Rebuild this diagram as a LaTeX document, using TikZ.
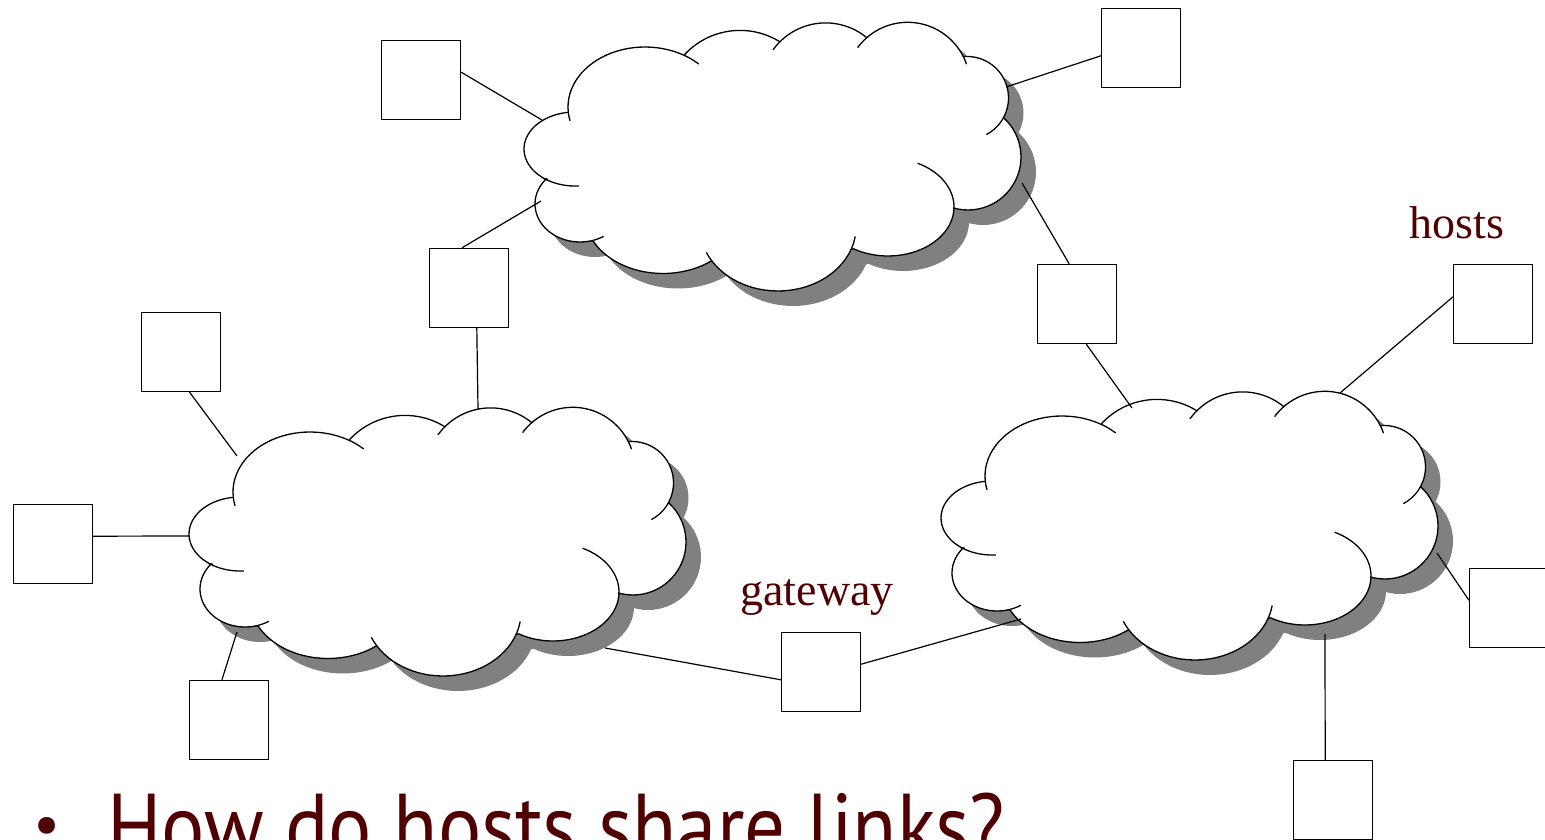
\documentclass[tikz,border=0pt]{standalone}
\usepackage{fontspec}
\setmainfont{Liberation Serif}
\newfontfamily\qfont[FakeStretch=0.88]{PT Sans}
\newfontfamily\qbfont{PT Sans}
\definecolor{lblred}{RGB}{80,0,0}
\definecolor{shadowgray}{RGB}{128,128,128}
\tikzset{
  host/.style={draw, line width=1.3pt, minimum size=79pt, inner sep=0pt, fill=white},
  link/.style={line width=1.2pt},
  lbl/.style={text=lblred, font=\fontsize{46}{50}\selectfont, inner sep=0pt},
  qtext/.style={text=lblred, font=\qfont\fontsize{92}{96}\selectfont, inner sep=0pt},
  qbullet/.style={text=lblred, font=\qbfont\fontsize{60}{64}\selectfont, inner sep=0pt},
  cloudline/.style={line width=1.3pt, line join=round, line cap=round},
  lobe/.style={samples=30, variable=\t},
  cloudoutline/.style={insert path={
    plot[lobe, domain=122:262.5] ({240+51*cos(\t)},{534+37*sin(\t)})
    -- plot[lobe, domain=175:301] ({310+77*cos(\t)},{492+60*sin(\t)})
    -- plot[lobe, domain=222.8:302] ({405+75.6*cos(\t)},{491+75.6*sin(\t)})
    -- plot[lobe, domain=225.3:309.4] ({490.6+64.8*cos(\t)},{472.7+64.8*sin(\t)})
    -- plot[lobe, domain=228.8:333.4] ({572.7+62.2*cos(\t)},{469.5+62.2*sin(\t)})
    -- plot[lobe, domain=264.7:388.7] ({632.1+41.4*cos(\t)},{482.9+41.4*sin(\t)})
    -- plot[lobe, domain=-46.8:105.9] ({633+53*cos(\t)},{542+53*sin(\t)})
    -- plot[lobe, domain=1.5:121.6] ({553+66*cos(\t)},{592+49*sin(\t)})
    -- plot[lobe, domain=20.6:147.5] ({443+78*cos(\t)},{612+64*sin(\t)})
    -- plot[lobe, domain=52:153.5] ({328+78*cos(\t)},{600+58.5*sin(\t)})
    -- plot[lobe, domain=75:221.9] ({245+45*cos(\t)},{589+38*sin(\t)})
    -- cycle}},
  cloudticks/.style={insert path={
    plot[lobe, domain=86:122] ({240+51*cos(\t)},{534+37*sin(\t)})
    plot[lobe, domain=167:175] ({310+77*cos(\t)},{492+60*sin(\t)})
    plot[lobe, domain=301:314] ({310+77*cos(\t)},{492+60*sin(\t)})
    plot[lobe, domain=216:225.3] ({490.6+64.8*cos(\t)},{472.7+64.8*sin(\t)})
    plot[lobe, domain=216.6:228.8] ({572.7+62.2*cos(\t)},{469.5+62.2*sin(\t)})
    plot[lobe, domain=333.4:340.6] ({572.7+62.2*cos(\t)},{469.5+62.2*sin(\t)})
    plot[lobe, domain=388.7:421.7] ({632.1+41.4*cos(\t)},{482.9+41.4*sin(\t)})
    plot[lobe, domain=-63.1:1.5] ({553+66*cos(\t)},{592+49*sin(\t)})
    plot[lobe, domain=8.8:20.6] ({443+78*cos(\t)},{612+64*sin(\t)})
    plot[lobe, domain=147.5:156.3] ({443+78*cos(\t)},{612+64*sin(\t)})
    plot[lobe, domain=58.7:75] ({245+45*cos(\t)},{589+38*sin(\t)})
  }}
}
\newcommand\netcloud[2]{%
  \begin{scope}[shift={(#1,#2)}]
    \fill[shadowgray, shift={(15,15)}, cloudoutline];
    \filldraw[fill=white, draw=black, cloudline, cloudoutline];
    \draw[cloudline, cloudticks];
  \end{scope}}
\begin{document}
\begin{tikzpicture}[x=1pt,y=-1pt]
\useasboundingbox (0,0) rectangle (1545,840);
\clip (0,0) rectangle (1545,840);
% clouds
\netcloud{335}{-385}
\netcloud{0}{0}
\netcloud{752}{-16}
% hosts / routers
\node[host] (h1) at (421,80) {};
\node[host] (h2) at (1141,48) {};
\node[host] (h3) at (469,288) {};
\node[host] (h4) at (1077,304) {};
\node[host] (h5) at (181,352) {};
\node[host] (h6) at (53,544) {};
\node[host] (h7) at (229,720) {};
\node[host] (h8) at (821,672) {};
\node[host] (h9) at (1493,304) {};
\node[host] (h10) at (1509,608) {};
\node[host] (h11) at (1333,800) {};
% attachment points on the clouds
\coordinate (a1) at (542,120);
\coordinate (a2) at (1006,87);
\coordinate (a3) at (541,201);
\coordinate (a4) at (478,409);
\coordinate (a5) at (1022,183);
\coordinate (a6) at (1132,408);
\coordinate (a7) at (237,456);
\coordinate (a8) at (189,536);
\coordinate (a9) at (237,632);
\coordinate (a10) at (605,648);
\coordinate (a11) at (1021,619);
\coordinate (a12) at (1340,393);
\coordinate (a13) at (1437,553);
\coordinate (a14) at (1325,634);
% links
\draw[link] (h1.11) -- (a1);
\draw[link] (h2.191) -- (a2);
\draw[link] (h3.100) -- (a3);
\draw[link] (h3.281) -- (a4);
\draw[link] (h4.101) -- (a5);
\draw[link] (h4.283) -- (a6);
\draw[link] (h5.282) -- (a7);
\draw[link] (h6.11) -- (a8);
\draw[link] (h7.100) -- (a9);
\draw[link] (h8.191) -- (a10);
\draw[link] (h8.11) -- (a11);
\draw[link] (h9.170) -- (a12);
\draw[link] (h10.169) -- (a13);
\draw[link] (h11.101) -- (a14);
% labels
\node[lbl, anchor=base] (lh) at (1457,238) {hosts};
\node[lbl, anchor=base] (lg) at (817,605) {gateway};
\node[qbullet, anchor=base] (qb) at (47,844) {•};
\node[qtext, anchor=base west] (qt) at (107,858) {How do hosts share links?};
\end{tikzpicture}
\end{document}
